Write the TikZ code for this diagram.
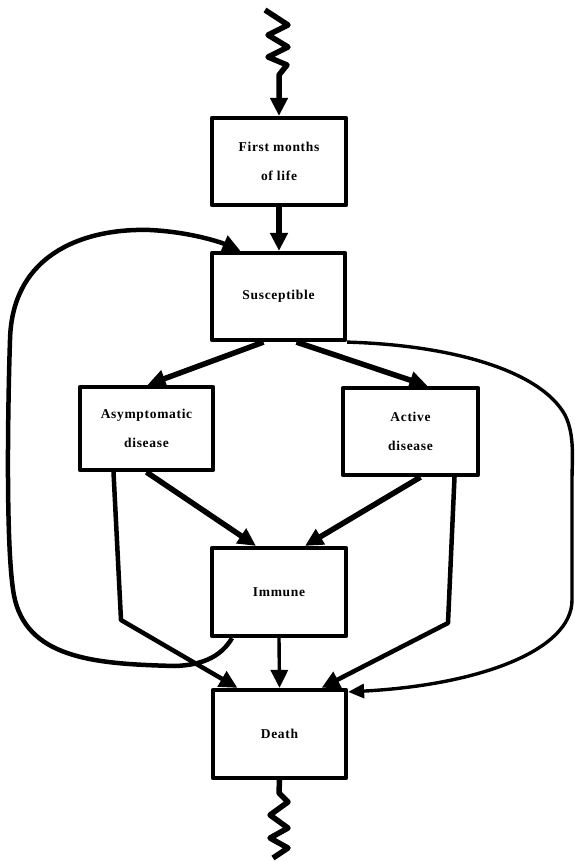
\documentclass[tikz,border=0pt]{standalone}
\usepackage{fontspec}
\setmainfont{Liberation Serif}
\newfontfamily\boxfont{Liberation Serif}[LetterSpace=5]
\usetikzlibrary{arrows.meta}
\begin{document}
\begin{tikzpicture}[x=1pt,y=-1pt,
  box/.style={draw, line width=4.2pt, inner sep=0pt, align=center,
    font=\boxfont\bfseries\fontsize{13.5}{29}\selectfont},
  heavy/.style={line width=5.5pt},
  med/.style={line width=4.5pt},
  thinline/.style={line width=3.4pt},
  tip/.style={-{Triangle[length=18pt,width=17pt]}},
  smalltip/.style={-{Triangle[length=16pt,width=14pt]}},
  line join=round]
\useasboundingbox (0,0) rectangle (574,862);

\node[box, minimum width=134pt, minimum height=87pt] (First) at (279,161.5) {First months\\of life};
\node[box, minimum width=133pt, minimum height=87pt] (Susc) at (278.5,296.5) {Susceptible};
\node[box, minimum width=133pt, minimum height=83pt] (Asym) at (146.5,428.5) {Asymptomatic\\disease};
\node[box, minimum width=135pt, minimum height=87pt] (Active) at (410.5,431.5) {Active\\disease};
\node[box, minimum width=134pt, minimum height=88pt] (Immune) at (279,592) {Immune};
\node[box, minimum width=133pt, minimum height=88pt] (Death) at (279.5,734) {Death};

\coordinate (ztop) at (265,10);
\coordinate (zbot) at (273,858);

% inflow zigzag
\draw[heavy, tip] (ztop) -- (288,25) -- (268,35) -- (288,47) -- (268,57) -- (287,65) -- (279,75) -- (First.north);
% outflow zigzag
\draw[heavy] (Death.south) -- (279,793) -- (288,802) -- (270,815) -- (288,828) -- (270,838) -- (288,848) -- (zbot);

\draw[heavy, tip] (First.south) -- (First.south |- Susc.north);
\draw[heavy, tip] ([xshift=-15pt]Susc.south) -- ([xshift=1pt]Asym.north);
\draw[heavy, tip] ([xshift=18pt]Susc.south) -- ([xshift=17pt]Active.north);
\draw[heavy, tip] (Asym.south) -- ([xshift=-23pt]Immune.north);
\draw[heavy, tip] ([xshift=10pt]Active.south) -- ([xshift=26pt]Immune.north);
\draw[med, tip] ([xshift=-33pt]Asym.south) -- (121,620) -- ([xshift=-42pt]Death.north);
\draw[med, tip] ([xshift=44pt]Active.south) -- (448,623) -- ([xshift=42pt]Death.north);
\draw[thinline, tip] (Immune.south) -- (Death.north);

% recovery loop back to susceptible
\draw[med, tip] ([xshift=-47pt]Immune.south) .. controls (222,655) and (205,665) .. (175,666)
  .. controls (100,664) and (30,660) .. (15,600)
  .. controls (5,560) and (8,400) .. (10,340)
  .. controls (12,250) and (90,228) .. (150,230)
  .. controls (190,232) and (220,242) .. ([xshift=-38pt]Susc.north);

% susceptible to death
\draw[thinline, smalltip] (Susc.south east) .. controls (450,345) and (540,370) .. (565,415)
  .. controls (575,435) and (572,460) .. (572,480) -- (572,600)
  .. controls (572,650) and (480,685) .. ([yshift=-4pt]Death.north east);
\end{tikzpicture}
\end{document}
